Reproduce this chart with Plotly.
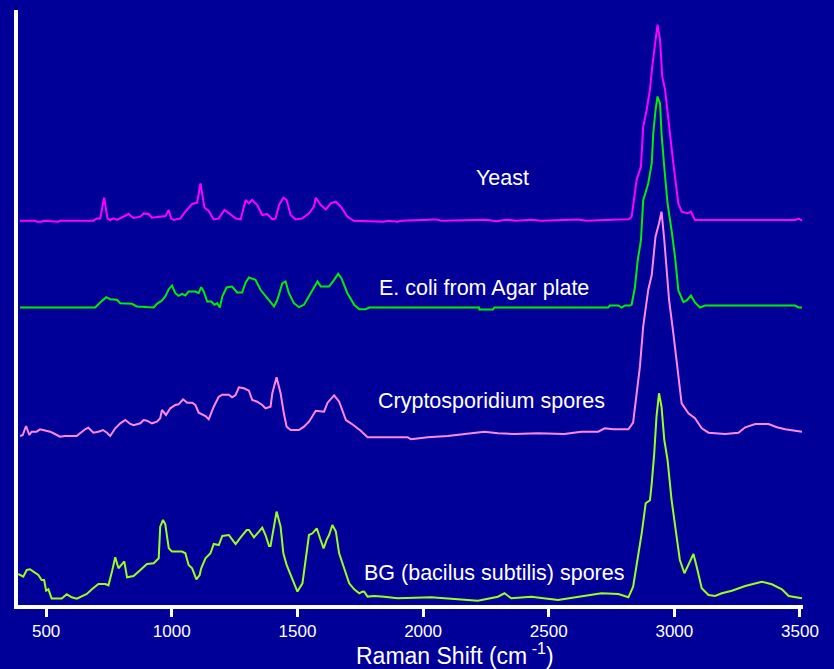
import plotly.graph_objects as go

# ---------------- data (Raman shift in cm-1, relative intensity) ----------------
yeast_x = [396, 456, 464, 482, 488, 529, 549, 555, 688, 702, 715, 731, 744, 755, 768, 782, 808, 828, 848, 875,
           888, 908, 921, 948, 975, 988, 997, 1008, 1034, 1054, 1081, 1101, 1114, 1130, 1147, 1167, 1187, 1210,
           1234, 1254, 1274, 1294, 1307, 1320, 1340, 1360, 1380, 1400, 1413, 1427, 1444, 1457, 1473, 1493, 1520,
           1546, 1566, 1573, 1593, 1613, 1633, 1653, 1673, 1699, 1719, 1724, 1844, 1860, 1899, 1912, 2052, 2072,
           2251, 2291, 2331, 2371, 2431, 2471, 2617, 2650, 2778, 2818, 2830, 2836, 2850, 2867, 2876, 2890, 2903,
           2912, 2925, 2933, 2943, 2952, 2963, 2979, 2996, 3016, 3029, 3053, 3066, 3082, 3481, 3495, 3508]
yeast_y = [0, 0, -1, -1, 0, -1, -1, 0, 0, 2.3, 2.3, 23, 2.3, 0.7, 2.3, 0.7, 4, 6.7, 2.7, 4,
           7.3, 6.7, 3, 4, 4.7, 10.7, 2.3, 0.7, 2.3, 9, 16.7, 18, 37.3, 13.3, 9.7, 1.3, 2.3, 10.7,
           5.7, 2.3, 1.3, 20.7, 17.3, 20.7, 15.7, 5.7, 6.7, 1.3, 2.3, 15.7, 23, 20.7, 5.7, 1.3, 2.3,
           7.3, 14, 23, 15.7, 11.3, 17.3, 19, 14, 4, 0.7, 0, -1, 0, -1, 0, 1.3, 0,
           1, -0.5, 1, 0, 1, 0, 1.3, 0, 1.3, 1.5, 4, 17, 41, 54, 94, 111, 131,
           154, 181, 196, 181, 144, 131, 94, 57, 17, 9, 7.4, 9, 0.7, 0.7, 2, 0]

ecoli_x = [396, 695, 715, 739, 755, 782, 795, 841, 861, 928, 941, 961, 974, 988, 1001, 1014, 1027, 1041, 1054,
           1067, 1094, 1107, 1117, 1127, 1141, 1157, 1170, 1181, 1191, 1201, 1218, 1240, 1260, 1280, 1294, 1307,
           1333, 1353, 1380, 1407, 1420, 1440, 1453, 1466, 1486, 1506, 1526, 1553, 1580, 1593, 1626, 1646, 1662,
           1675, 1699, 1726, 1746, 1772, 1786, 2223, 2224, 2278, 2284, 2737, 2743, 2777, 2790, 2803, 2823, 2830,
           2843, 2854, 2867, 2876, 2896, 2910, 2916, 2925, 2933, 2943, 2949, 2960, 2973, 2989, 3003, 3016, 3036,
           3049, 3066, 3082, 3102, 3122, 3480, 3495, 3508]
ecoli_y = [0, 0, 5, 10.3, 8.3, 7.7, 4.3, 3.7, 1, 0, 3.7, 7, 11, 18.3, 22, 14.3, 11.7, 13.7, 12,
           16, 16, 14.3, 20.3, 16, 6, 6, 2.7, 4.3, 0, 11, 20, 21, 15, 15, 25, 30,
           27.7, 17.7, 9.3, 1, 7.7, 24.3, 26, 14.3, 4.3, 0.3, 2.7, 14.3, 26, 21, 21, 27.7, 33.7,
           29.3, 14.3, 2.7, -1.7, -1.7, 0, 0, -2, -2, 0, 0, 2, 2, 0, 2, 2, 3,
           20, 47, 67, 107, 124, 144, 174, 197, 211, 204, 174, 140, 104, 77, 50, 17, 5.3,
           7, 12, 5, 0, 2, 2, 0, 0]

crypto_x = [396, 407, 420, 433, 442, 462, 476, 496, 516, 535, 555, 575, 622, 635, 655, 668, 688, 708, 726, 742,
            755, 775, 795, 815, 835, 848, 875, 888, 901, 921, 941, 954, 961, 977, 994, 1014, 1027, 1045, 1061,
            1081, 1094, 1107, 1121, 1134, 1147, 1167, 1187, 1201, 1227, 1240, 1254, 1267, 1287, 1307, 1320, 1340,
            1360, 1373, 1393, 1400, 1417, 1433, 1446, 1457, 1473, 1506, 1526, 1546, 1573, 1593, 1606, 1620, 1646,
            1666, 1693, 1713, 1732, 1752, 1779, 1939, 1952, 2019, 2098, 2204, 2244, 2298, 2363, 2457, 2562, 2630,
            2697, 2723, 2757, 2817, 2836, 2850, 2863, 2876, 2886, 2896, 2910, 2925, 2939, 2949, 2960, 2979, 2996,
            3016, 3029, 3056, 3082, 3109, 3136, 3202, 3255, 3282, 3322, 3375, 3408, 3441, 3481, 3508]
crypto_y = [0, 1, 10, 1, 4.3, 4.3, 6.7, 5.3, 4.3, 2, -0.7, 0, 0, 2.7, 6.7, 8.3, 3.3, 4.3, 6, 3.3,
            0, 7.7, 12.7, 16, 12, 10.7, 12.7, 16, 15.3, 12.7, 14.3, 17.7, 26, 21, 27.7, 31, 31.7, 36.7, 33.3,
            33.3, 31, 23.3, 22, 20, 16.7, 29.3, 39.3, 41.3, 41.3, 38.7, 41, 48.7, 47.7, 45.3, 36, 34.3,
            31, 27.7, 29.3, 42.7, 58.7, 42.7, 22.7, 9.3, 6, 6, 9.3, 14.3, 25.3, 24.3, 24.3, 33.3, 40.7,
            34.3, 16, 12.7, 9.3, 5.3, -1.3, -1.3, -3.3, -1.3, 0, 2.7, 4.3, 2.7, 2, 2.7, 2, 4.3,
            4.3, 7.7, 6.7, 6.7, 13.3, 42.7, 69.3, 109.3, 126, 146, 161, 199.3, 212.7, 224.3, 196, 136, 102.7,
            62.7, 32.7, 22.7, 17.7, 7.7, 3.3, 2, 3.3, 8.7, 12, 12, 8.7, 6.7, 5, 4.3]

bg_x = [389, 409, 423, 436, 449, 469, 482, 492, 500, 509, 522, 542, 562, 582, 602, 622, 642, 662, 682, 708,
        735, 748, 762, 775, 788, 802, 811, 822, 848, 875, 901, 928, 948, 954, 965, 974, 988, 1001, 1041, 1054,
        1067, 1081, 1098, 1111, 1117, 1134, 1154, 1167, 1187, 1201, 1227, 1240, 1254, 1274, 1298, 1307, 1327,
        1347, 1360, 1373, 1387, 1393, 1400, 1417, 1433, 1444, 1457, 1480, 1500, 1520, 1533, 1546, 1560, 1577,
        1590, 1604, 1617, 1626, 1639, 1653, 1666, 1686, 1706, 1726, 1746, 1759, 1766, 1779, 1806, 1845, 1899,
        2032, 2165, 2218, 2298, 2324, 2351, 2431, 2537, 2630, 2710, 2777, 2817, 2836, 2854, 2870, 2886, 2903,
        2910, 2920, 2929, 2939, 2949, 2960, 2973, 2989, 3009, 3022, 3040, 3058, 3076, 3089, 3109, 3136, 3162,
        3189, 3229, 3282, 3348, 3388, 3428, 3455, 3508]
bg_y = [25.3, 22.7, 29.3, 30, 27.7, 24.3, 19.3, 19.3, 8.7, 10, 0.7, 1, 0.7, 5, 2, 0.7, 2.7, 5.3, 10, 15.3,
        15.3, 14, 27.7, 42, 31, 36, 38, 22, 23.3, 29.3, 35.3, 36, 41, 72.7, 79.3, 75.3, 51, 47.7, 47.7, 46,
        34.3, 31, 20, 24.3, 31, 41, 46, 55.3, 54.3, 63.3, 64.3, 60, 55.3, 62, 69.3, 69.3, 62,
        67.7, 71.7, 64.3, 53.3, 53.3, 64.3, 87.7, 72.7, 46, 34.3, 21, 7.7, 16, 39.3, 64.3, 66, 71,
        61, 51, 60, 64.3, 74.3, 67.7, 46, 31, 16, 10, 6, 7.7, 7.6, 2.7, 3.3, 2.6, 1,
        2, 0, -1.4, 2.6, 6, 1, 2.6, -0.7, 2.6, 6, 5.3, 2, 12.6, 39.3, 66, 96, 99,
        116, 146, 182.6, 206, 192.6, 159.3, 139.3, 99.3, 62.6, 39.3, 26, 36, 45.3, 32.6, 11, 4.3, 3.3,
        6, 8.6, 13.3, 17.6, 15, 10, 3.3, 1]

series_names = ["Yeast", "E. coli from Agar plate", "Cryptosporidium spores", "BG (bacilus subtilis) spores"]
series_x = [yeast_x, ecoli_x, crypto_x, bg_x]
series_y = [yeast_y, ecoli_y, crypto_y, bg_y]
series_offset = [384.3, 297.5, 169, 5.7]
series_colors = ["#ff00ff", "#00ee00", "#ff88ee", "#99ff22"]
label_pos = [(2317, 427), (2243, 317), (2271, 204), (2283, 32)]

tick_vals = [500, 1000, 1500, 2000, 2500, 3000, 3500]
tick_text = ["500", "1000", "1500", "2000", "2500", "3000", "3500"]
x_title = "Raman Shift (cm<sup> -1</sup>)"

BG = "#000099"
FONT = "Arial, Liberation Sans, sans-serif"

fig = go.Figure()
for name, xs, ys, off, col in zip(series_names, series_x, series_y, series_offset, series_colors):
    fig.add_trace(go.Scatter(x=xs, y=[v + off for v in ys], mode="lines", name=name,
                             line=dict(color=col, width=2), showlegend=False, hoverinfo="skip"))

for name, (lx, ly) in zip(series_names, label_pos):
    fig.add_annotation(x=lx, y=ly, xref="x", yref="y", text=name, showarrow=False,
                       font=dict(family=FONT, size=21.5, color="white"), xanchor="center", yanchor="middle")

# axis title (offset to the right of the plot centre, as in the original)
fig.add_annotation(x=0.557, y=-0.083, xref="paper", yref="paper", text=x_title, showarrow=False,
                   font=dict(family=FONT, size=23, color="white"), xanchor="center", yanchor="middle")

fig.update_layout(
    width=834, height=669,
    margin=dict(l=18, r=31, t=10, b=64),
    paper_bgcolor=BG, plot_bgcolor=BG,
    font=dict(family=FONT, color="white"),
    xaxis=dict(range=[388, 3512], showgrid=False, zeroline=False,
               showline=True, linecolor="white", linewidth=4,
               ticks="outside", ticklen=8, tickwidth=3, tickcolor="white",
               tickvals=tick_vals, ticktext=tick_text,
               tickfont=dict(family=FONT, size=17, color="white"),
               automargin=False),
    yaxis=dict(range=[0, 595], showgrid=False, zeroline=False, showticklabels=False,
               showline=True, linecolor="white", linewidth=4, ticks="", automargin=False),
)

fig.write_html("out.html", config={"displayModeBar": False},
               post_script="document.body.style.margin='0';document.body.style.background='#000099';")
